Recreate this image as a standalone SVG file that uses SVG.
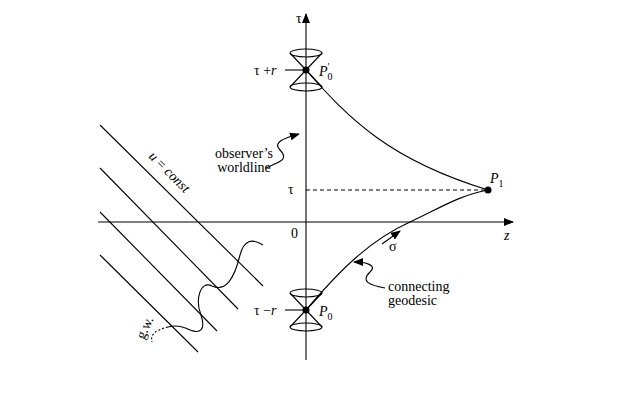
<svg xmlns="http://www.w3.org/2000/svg" width="635" height="400" viewBox="0 0 635 400">
<style>
.l{stroke:#000;stroke-width:1.1;fill:none}
.t{font-family:"Liberation Serif",serif;font-size:14px;fill:#000}
.i{font-style:italic}
.s{font-style:normal;font-size:10px}
</style>
<defs>
<marker id="a" markerWidth="10" markerHeight="8" refX="9" refY="4" orient="auto" markerUnits="userSpaceOnUse"><path d="M0,0L10,4L0,8z" fill="#000"/></marker>
</defs>
<g id="connectors">
<line class="l" x1="306" y1="360" x2="306" y2="14" marker-end="url(#a)"/>
<line class="l" x1="98" y1="222" x2="513" y2="222" marker-end="url(#a)"/>
<line class="l" x1="306" y1="190" x2="488" y2="190" stroke-dasharray="4,3"/>
<path class="l" d="M306,70 C350,120 390,160 488,190"/>
<path class="l" d="M306,310 C340,270 370,240 410,222 C440,208 460,195 488,190"/>
<line class="l" x1="100" y1="125" x2="263" y2="286"/>
<line class="l" x1="100" y1="168" x2="238" y2="309"/>
<line class="l" x1="100" y1="212" x2="217" y2="331"/>
<line class="l" x1="100" y1="255" x2="198" y2="352"/>
<path class="l" d="M263,245 C252,238 244,240 240,255 C234,280 225,292 212,286 C200,280 195,300 201,315 C206,330 200,334 190,330 C182,326 175,325 168,327"/>
<path class="l" d="M168,327 C155,330 150,335 152,342" stroke-dasharray="2,2"/>
<path class="l" d="M266,168 C278,162 290,160 280,150 C272,142 285,138 299,134" marker-end="url(#a)"/>
<path class="l" d="M385,288 C370,285 360,282 370,272 C378,265 365,262 354,262" marker-end="url(#a)"/>
<line class="l" x1="382" y1="244" x2="400" y2="231" marker-end="url(#a)"/>
</g>
<g id="P0prime">
<ellipse class="l" cx="306" cy="53" rx="16" ry="4"/>
<ellipse class="l" cx="306" cy="87" rx="16" ry="4"/>
<path class="l" d="M290,53L322,87M322,53L290,87"/>
<line class="l" x1="285" y1="70" x2="306" y2="70"/>
<circle cx="306" cy="70" r="3.5"/>
<text class="t" x="254" y="75">τ +<tspan class="i">r</tspan></text>
<text class="t i" x="319" y="76">P<tspan class="s" dy="4">0</tspan><tspan class="s" dy="-10" dx="-5">′</tspan></text>
</g>
<g id="P0">
<ellipse class="l" cx="306" cy="293" rx="16" ry="4"/>
<ellipse class="l" cx="306" cy="327" rx="16" ry="4"/>
<path class="l" d="M290,293L322,327M322,293L290,327"/>
<line class="l" x1="285" y1="310" x2="306" y2="310"/>
<circle cx="306" cy="310" r="3.5"/>
<text class="t" x="254" y="315">τ −<tspan class="i">r</tspan></text>
<text class="t i" x="319" y="316">P<tspan class="s" dy="4">0</tspan></text>
</g>
<g id="P1">
<circle cx="488" cy="190" r="3.5"/>
<text class="t i" x="490" y="183">P<tspan class="s" dy="4">1</tspan></text>
</g>
<g id="labels">
<text class="t" x="296" y="23">τ</text>
<text class="t i" x="504" y="240">z</text>
<text class="t" x="291" y="238">0</text>
<text class="t" x="288" y="194">τ</text>
<text class="t" x="389" y="251">σ</text>
<text class="t" x="244" y="158" text-anchor="middle">observer’s</text>
<text class="t" x="244" y="172" text-anchor="middle">worldline</text>
<text class="t" x="388" y="291">connecting</text>
<text class="t" x="388" y="305">geodesic</text>
<text class="t" transform="translate(148,157) rotate(45)"><tspan class="i">u</tspan> = <tspan class="i">const</tspan></text>
<text class="t" transform="translate(144,340) rotate(-65)">g.w.</text>
</g>
</svg>
